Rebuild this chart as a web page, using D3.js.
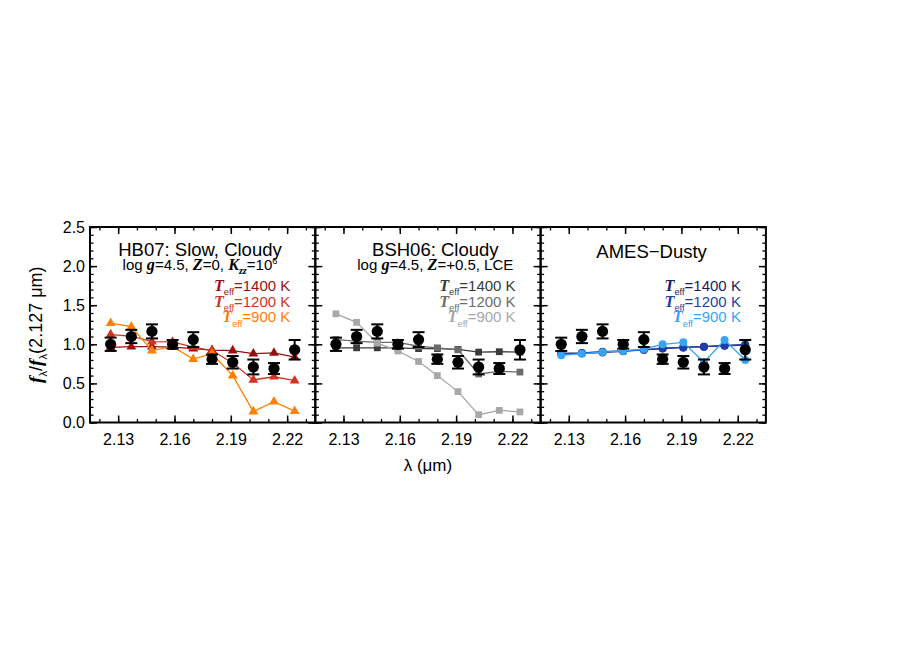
<!DOCTYPE html>
<html>
<head>
<meta charset="utf-8">
<script src="https://cdn.jsdelivr.net/npm/d3@7"></script>
<style>
    body { margin: 0; background: #fff; }
    text { font-family: "Liberation Sans", Arial, Helvetica, sans-serif; }
    .it { font-family: "Liberation Serif", "Times New Roman", serif; font-style: italic; font-weight: bold; }
</style>
</head>
<body>
<div id="chart"></div>
<script>
// Observed spectrum (normalized at 2.127 um)
const wave = [2.126, 2.137, 2.148, 2.159, 2.170, 2.180, 2.191, 2.202, 2.213, 2.224];
const obsFlux = [1.00, 1.10, 1.165, 1.00, 1.06, 0.81, 0.77, 0.71, 0.69, 0.93];
const obsErr = [0.085, 0.085, 0.09, 0.055, 0.095, 0.06, 0.08, 0.095, 0.07, 0.125];

// HB07 models (triangles)
const hb07_1400 = [0.96, 0.97, 0.97, 0.965, 0.945, 0.925, 0.92, 0.88, 0.89, 0.835];
const hb07_1200 = [1.125, 1.105, 1.035, 1.03, 0.965, 0.92, 0.76, 0.545, 0.585, 0.535];
const hb07_900 = [1.27, 1.225, 0.92, 0.97, 0.81, 0.88, 0.60, 0.14, 0.265, 0.145];

// BSH06 models (squares)
const bsh06_1400 = [0.955, 0.955, 0.955, 0.955, 0.945, 0.945, 0.935, 0.90, 0.905, 0.90];
const bsh06_1200 = [1.06, 1.04, 1.025, 1.025, 0.975, 0.955, 0.93, 0.62, 0.655, 0.645];
const bsh06_900 = [1.39, 1.28, 1.015, 0.915, 0.78, 0.60, 0.395, 0.10, 0.155, 0.135];

// AMES-Dusty models (circles)
const ames_1400 = [0.885, 0.89, 0.905, 0.915, 0.93, 0.945, 0.96, 0.97, 0.985, 0.995];
const ames_1200 = [0.875, 0.885, 0.895, 0.91, 0.93, 0.95, 0.96, 0.97, 0.98, 0.99];
const ames_900 = [0.86, 0.88, 0.90, 0.915, 0.94, 1.00, 1.025, 0.77, 1.055, 0.80];

const teffLabels = ["1400", "1200", "900"];
const xTicks = [2.13, 2.16, 2.19, 2.22];
const yTicks = [0.0, 0.5, 1.0, 1.5, 2.0, 2.5];

const WIDTH = 900;
const HEIGHT = 650;
const LEFT = 90;
const TOP = 227;
const PW = 225.3;
const PH = 195.5;

const panels = [
    {
        title: "HB07: Slow, Cloudy", titleX: 110, titleY: 29,
        sub: [{t: "log "}, {t: "g", it: true}, {t: "=4.5, "}, {t: "Z", it: true}, {t: "=0, "},
              {t: "K", it: true}, {t: "zz", it: true, sub: true}, {t: "=10"}, {t: "6", sup: true}],
        models: [hb07_1400, hb07_1200, hb07_900],
        colors: ["#990f0f", "#cf3520", "#ff8000"],
        symbol: d3.symbolTriangle, symSize: 42
    },
    {
        title: "BSH06: Cloudy", titleX: 120, titleY: 29,
        sub: [{t: "log "}, {t: "g", it: true}, {t: "=4.5, "}, {t: "Z", it: true}, {t: "=+0.5, LCE"}],
        models: [bsh06_1400, bsh06_1200, bsh06_900],
        colors: ["#3a3a3a", "#6c6c6c", "#a8a8a8"],
        symbol: d3.symbolSquare, symSize: 46
    },
    {
        title: "AMES\u2212Dusty", titleX: 111, titleY: 31,
        sub: null,
        models: [ames_1400, ames_1200, ames_900],
        colors: ["#1c1c66", "#1f3fa8", "#38a4f5"],
        symbol: d3.symbolCircle, symSize: 50
    }
];

const svg = d3.select("#chart")
    .append("svg")
    .attr("width", WIDTH)
    .attr("height", HEIGHT)
    .style("background", "#fff");

const x = d3.scaleLinear().domain([2.115, 2.235]).range([0, PW]);
const y = d3.scaleLinear().domain([0, 2.5]).range([PH, 0]);

const xMinor = d3.range(2.12, 2.2351, 0.01).map(v => +v.toFixed(2));
const yMinor = d3.range(0, 2.501, 0.1).map(v => +v.toFixed(1));

// rich text with italic serif pieces, sub- and superscripts
function rich(g, px, py, anchor, size, parts, color) {
    const t = g.append("text")
        .attr("x", px)
        .attr("y", py)
        .attr("text-anchor", anchor)
        .attr("font-size", size)
        .attr("fill", color);
    let shift = 0;
    parts.forEach(p => {
        const s = t.append("tspan").text(p.t);
        const target = p.sub ? size * 0.28 : p.sup ? -size * 0.42 : 0;
        if (target - shift !== 0) s.attr("dy", target - shift);
        shift = target;
        let fs = size;
        if (p.sub || p.sup) fs = size * 0.62;
        if (p.it) {
            s.attr("class", "it");
            fs = fs * 1.08;
        }
        s.attr("font-size", fs);
    });
    return t;
}

function styleAxis(g, width) {
    g.select(".domain").remove();
    g.selectAll(".tick line").attr("stroke", "#000").attr("stroke-width", width);
}

panels.forEach((p, i) => {
    const g = svg.append("g")
        .attr("transform", `translate(${LEFT + i * PW},${TOP})`);

    // ticks on all four sides, pointing inward
    const sides = [
        [d3.axisBottom, `translate(0,${PH})`, x, xTicks, xMinor],
        [d3.axisTop, "translate(0,0)", x, xTicks, xMinor],
        [d3.axisLeft, "translate(0,0)", y, yTicks, yMinor],
        [d3.axisRight, `translate(${PW},0)`, y, yTicks, yMinor]
    ];
    sides.forEach(([axisFn, tr, sc, major, minor]) => {
        const minorAxis = g.append("g").attr("transform", tr)
            .call(axisFn(sc).tickValues(minor).tickSize(-3.5).tickFormat(""));
        styleAxis(minorAxis, 1.3);
        const majorAxis = g.append("g").attr("transform", tr)
            .call(axisFn(sc).tickValues(major).tickSize(-7).tickFormat(""));
        styleAxis(majorAxis, 1.5);
    });

    // tick labels
    const xLab = g.append("g").attr("transform", `translate(0,${PH})`)
        .call(d3.axisBottom(x).tickValues(xTicks).tickSize(0).tickPadding(11).tickFormat(d3.format(".2f")));
    xLab.select(".domain").remove();
    xLab.selectAll("text").attr("font-size", 16).attr("fill", "#000")
        .style("font-family", '"Liberation Sans", Arial, sans-serif');

    if (i === 0) {
        const yLab = g.append("g")
            .call(d3.axisLeft(y).tickValues(yTicks).tickSize(0).tickPadding(5).tickFormat(d3.format(".1f")));
        yLab.select(".domain").remove();
        yLab.selectAll("text").attr("font-size", 16).attr("fill", "#000")
            .style("font-family", '"Liberation Sans", Arial, sans-serif');
    }

    // model curves
    const line = d3.line()
        .x((d, j) => x(wave[j]))
        .y(d => y(d));
    const sym = d3.symbol().type(p.symbol).size(p.symSize);

    p.models.forEach((vals, k) => {
        g.append("path")
            .datum(vals)
            .attr("d", line)
            .attr("fill", "none")
            .attr("stroke", p.colors[k])
            .attr("stroke-width", 1.3);
        g.selectAll(null)
            .data(vals)
            .enter()
            .append("path")
            .attr("d", sym)
            .attr("transform", (d, j) => `translate(${x(wave[j])},${y(d)})`)
            .attr("fill", p.colors[k]);
    });

    // observed points with error bars
    const obs = wave.map((w, j) => ({w: w, f: obsFlux[j], e: obsErr[j]}));
    const pts = g.selectAll(".obs")
        .data(obs)
        .enter()
        .append("g")
        .attr("class", "obs");
    pts.append("line")
        .attr("x1", d => x(d.w)).attr("x2", d => x(d.w))
        .attr("y1", d => y(d.f - d.e)).attr("y2", d => y(d.f + d.e))
        .attr("stroke", "#000").attr("stroke-width", 2);
    [-1, 1].forEach(sgn => {
        pts.append("line")
            .attr("x1", d => x(d.w) - 6).attr("x2", d => x(d.w) + 6)
            .attr("y1", d => y(d.f + sgn * d.e)).attr("y2", d => y(d.f + sgn * d.e))
            .attr("stroke", "#000").attr("stroke-width", 2);
    });
    pts.append("circle")
        .attr("cx", d => x(d.w))
        .attr("cy", d => y(d.f))
        .attr("r", 5.6)
        .attr("fill", "#000");

    // titles
    g.append("text")
        .attr("x", p.titleX)
        .attr("y", p.titleY)
        .attr("text-anchor", "middle")
        .attr("font-size", 18.5)
        .attr("fill", "#000")
        .text(p.title);
    if (p.sub) rich(g, p.titleX, 43, "middle", 15, p.sub, "#000");

    // legend
    teffLabels.forEach((lab, k) => {
        rich(g, PW - 25, 64 + k * 15.7, "end", 15,
            [{t: "T", it: true}, {t: "eff", sub: true}, {t: "=" + lab + " K"}], p.colors[k]);
    });

    // frame
    g.append("rect")
        .attr("width", PW)
        .attr("height", PH)
        .attr("fill", "none")
        .attr("stroke", "#000")
        .attr("stroke-width", 2);
});

// axis titles
rich(svg.append("g").attr("transform", `translate(42,${TOP + PH / 2}) rotate(-90)`),
    0, 0, "middle", 18,
    [{t: "f", it: true}, {t: "\u03bb", sub: true}, {t: "/"}, {t: "f", it: true}, {t: "\u03bb", sub: true}, {t: "(2.127 \u03bcm)"}],
    "#000");

svg.append("text")
    .attr("x", LEFT + 1.5 * PW)
    .attr("y", 471)
    .attr("text-anchor", "middle")
    .attr("font-size", 17)
    .attr("fill", "#000")
    .text("\u03bb (\u03bcm)");
</script>
</body>
</html>
